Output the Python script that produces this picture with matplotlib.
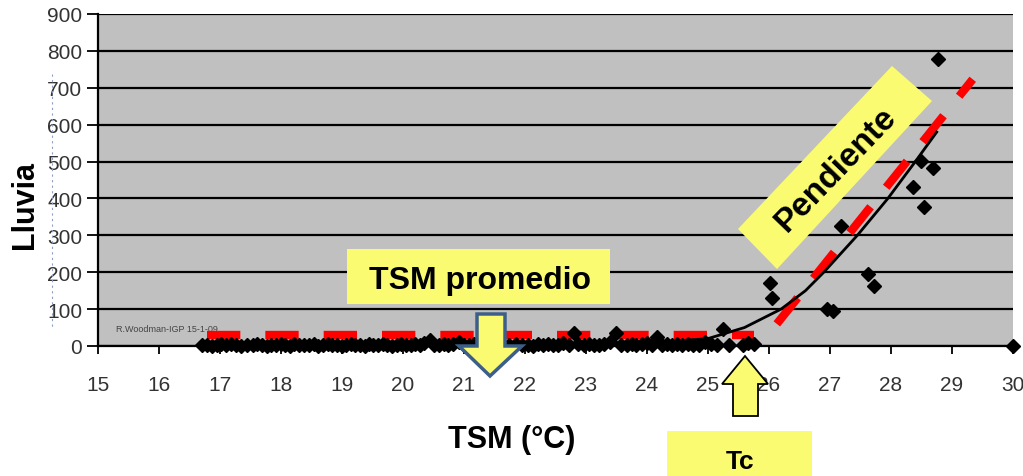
import matplotlib
matplotlib.use("Agg")
import matplotlib.pyplot as plt
from matplotlib.patches import Polygon
from matplotlib.transforms import Affine2D

plt.rcParams['font.family'] = ['Liberation Sans', 'DejaVu Sans']

# ---------------- data ----------------
base_x = [16.72, 16.80, 16.88, 16.95, 17.03, 17.10, 17.18, 17.27, 17.35, 17.45,
          17.55, 17.62, 17.70, 17.78, 17.85, 17.92, 18.00, 18.07, 18.15, 18.22,
          18.30, 18.38, 18.47, 18.55, 18.62, 18.70, 18.78, 18.85, 18.92, 19.00,
          19.07, 19.15, 19.22, 19.30, 19.38, 19.45, 19.52, 19.60, 19.68, 19.75,
          19.83, 19.90, 19.98, 20.05, 20.13, 20.20, 20.28, 20.35, 20.45, 20.52,
          20.60, 20.68, 20.75, 20.83, 20.92, 21.00, 21.08, 21.17, 21.27, 21.36,
          21.45, 21.55, 21.65, 21.75, 21.85, 21.95, 22.05, 22.13, 22.22, 22.30,
          22.38, 22.47, 22.55, 22.63, 22.72, 22.80, 22.88, 22.97, 23.05, 23.13,
          23.22, 23.30, 23.40, 23.50, 23.58, 23.67, 23.75, 23.83, 23.92, 24.00,
          24.08, 24.17, 24.25, 24.33, 24.42, 24.50, 24.58, 24.67, 24.75, 24.85,
          24.95, 25.05, 25.15, 25.25, 25.35, 25.57, 25.65, 25.75]
base_y = [2, 4, 1, 3, 5, 2, 6, 3, 1, 4,
          2, 5, 3, 1, 4, 2, 6, 3, 1, 5,
          2, 4, 3, 6, 1, 3, 5, 2, 4, 1,
          3, 6, 2, 4, 1, 5, 3, 2, 6, 4,
          1, 3, 5, 2, 4, 6, 3, 8, 15, 4,
          2, 6, 3, 5, 12, 4, 2, 6, 10, 3,
          5, 2, 4, 3, 6, 2, 4, 1, 5, 3,
          6, 2, 4, 8, 3, 35, 5, 2, 6, 4,
          3, 5, 10, 35, 4, 2, 6, 3, 5, 8,
          2, 25, 4, 6, 3, 5, 2, 6, 4, 3,
          10, 5, 4, 45, 3, 4, 8, 5]

high_x = [26.02, 26.05, 26.95, 27.05, 27.18, 27.62, 27.72, 28.36, 28.49, 28.54, 28.69, 28.77, 30.0]
high_y = [170, 130, 100, 95, 325, 195, 162, 431, 501, 376, 482, 778, 0]

curve_x = [16.9, 18.0, 19.0, 20.0, 21.0, 22.0, 23.0, 24.2, 25.0, 25.6, 26.2, 26.6, 26.9, 27.45, 27.95, 28.4, 28.75]
curve_y = [3, 3, 4, 4, 5, 6, 8, 10, 20, 50, 100, 150, 200, 300, 400, 500, 580]

flat_x = [16.8, 25.75]
flat_y = [30, 30]
slope_x = [26.13, 29.34]
slope_y = [60, 723]

yticks = [0, 100, 200, 300, 400, 500, 600, 700, 800, 900]
xticks = list(range(15, 31))

W, H = 1023, 477
fig = plt.figure(figsize=(W / 100, H / 100), dpi=100)
pix = Affine2D().scale(1 / W, -1 / H).translate(0, 1) + fig.transFigure

ax = fig.add_axes([97.5 / W, 1 - 347 / H, (1013 - 97.5) / W, (347 - 15) / H])
ax.set_facecolor('#c0c0c0')
ax.set_xlim(15, 30)
ax.set_ylim(0, 900)
ax.set_xticks(xticks)
ax.set_yticks(yticks)
ax.grid(axis='y', color='black', lw=1.6, zorder=1)
ax.set_axisbelow(True)
for s in ['top', 'right']:
    ax.spines[s].set_visible(False)
for s in ['left', 'bottom']:
    ax.spines[s].set_color('black')
    ax.spines[s].set_linewidth(1.6)
ax.tick_params(axis='x', direction='out', length=6, width=1.3, pad=15,
               labelsize=15, labelcolor='#333333')
ax.tick_params(axis='y', direction='out', length=8, width=1.3, pad=3,
               labelsize=15, labelcolor='#333333')

# red dashed lines
ax.plot(flat_x, flat_y, color='#ff0000', lw=6, dashes=(4, 3),
        solid_capstyle='butt', dash_capstyle='butt', zorder=3)
ax.plot(slope_x, slope_y, color='#ff0000', lw=6, dashes=(4, 3),
        dash_capstyle='butt', zorder=3)
# scatter
ax.plot(base_x, base_y, 'D', color='black', ms=7.5, zorder=4, clip_on=False)
ax.plot(high_x, high_y, 'D', color='black', ms=7.5, zorder=4, clip_on=False)
# trend curve
ax.plot(curve_x, curve_y, color='black', lw=2, zorder=5)

ax.text(0.02, 0.045, 'R.Woodman-IGP 15-1-09', transform=ax.transAxes,
        fontsize=6.5, color='#444444', zorder=2)

# axis titles
fig.text(25 / W, 1 - 205 / H, 'Lluvia', rotation=90, fontsize=22,
         fontweight='bold', ha='center', va='center')
fig.text(512 / W, 1 - 440 / H, 'TSM (°C)', fontsize=22,
         fontweight='bold', ha='center', va='center')

yellow = '#fbfb72'

# TSM promedio box
fig.add_artist(Polygon([(347, 250), (610, 250), (610, 305), (347, 305)],
                       closed=True, transform=pix, facecolor=yellow,
                       edgecolor='none', zorder=5))
fig.text(480 / W, 1 - 281 / H, 'TSM promedio', fontsize=23, fontweight='bold',
         ha='center', va='center', zorder=6)

# down arrow
fig.add_artist(Polygon([(477, 315), (505, 315), (505, 347), (522, 347),
                        (490, 377), (459, 347), (477, 347)],
                       closed=True, transform=pix, facecolor=yellow,
                       edgecolor='#3b5f8a', lw=2.5, zorder=6))

# Tc up arrow
fig.add_artist(Polygon([(745, 357), (768, 385), (758, 385), (758, 417),
                        (733, 417), (733, 385), (722, 385)],
                       closed=True, transform=pix, facecolor=yellow,
                       edgecolor='black', lw=1.3, zorder=6))
# Tc box
fig.add_artist(Polygon([(667, 432), (812, 432), (812, 477), (667, 477)],
                       closed=True, transform=pix, facecolor=yellow,
                       edgecolor='none', zorder=5))
fig.text(740 / W, 1 - 462 / H, 'Tc', fontsize=19, fontweight='bold',
         ha='center', va='center', zorder=6)

# Pendiente rotated box
fig.add_artist(Polygon([(892, 67), (932, 102), (777, 270), (738, 230)],
                       closed=True, transform=pix, facecolor=yellow,
                       edgecolor='none', zorder=5))
fig.text(836 / W, 1 - 170 / H, 'Pendiente', fontsize=24, fontweight='bold',
         rotation=46, rotation_mode='anchor', ha='center', va='center', zorder=6)

# faint dotted artifact line
fig.add_artist(plt.Line2D([52, 52], [75, 330], transform=pix, color='#8fa0c0',
                          lw=0.8, ls=(0, (2, 3)), zorder=1))

fig.savefig('out.png', dpi=100, facecolor='white')
